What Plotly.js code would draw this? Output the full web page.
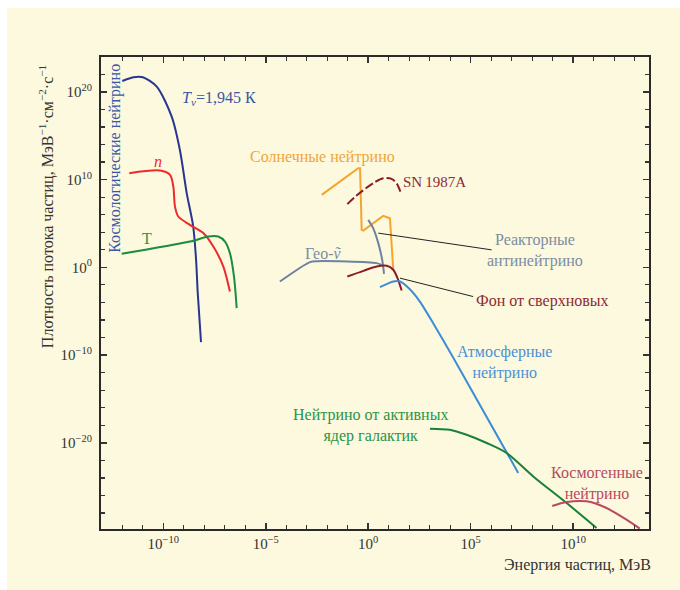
<!DOCTYPE html>
<html>
<head>
<meta charset="utf-8">
<script src="https://cdn.plot.ly/plotly-3.0.1.min.js"></script>
<style>
  html, body { margin: 0; padding: 0; background: #ffffff; width: 680px; height: 590px; overflow: hidden; }
  #plot { position: absolute; left: 7px; top: 8px; width: 673px; height: 582px; }
</style>
</head>
<body>
<div id="plot"></div>
<script>
// All values are log10 of energy (MeV) and log10 of flux density
const cosmoX = [-12.0, -11.46, -11.0, -10.32, -9.59, -9.19, -8.86, -8.54, -8.40, -8.32, -8.16];
const cosmoY = [21.24, 21.66, 21.66, 20.59, 17.18, 13.38, 8.49, 4.65, 0.85, -2.90, -8.52];

const nX = [-11.66, -10.16, -9.67, -9.51, -9.43, -9.27, -8.70, -8.05, -7.56, -7.07, -6.75];
const nY = [10.73, 11.03, 10.54, 9.20, 6.92, 5.79, 4.84, 3.90, 2.37, 0.09, -2.76];

const tX = [-12.03, -8.70, -7.80, -7.32, -6.99, -6.75, -6.55, -6.42];
const tY = [1.54, 2.94, 3.51, 3.51, 2.94, 1.62, -1.05, -4.65];

const solarX = [-2.27, -0.49, -0.40, -0.32, -0.24, 0.73, 1.06, 1.14, 1.22];
const solarY = [8.26, 11.30, 11.30, 4.27, 4.19, 5.87, 5.60, 3.13, -0.28];

const sn1987X = [-1.02, -0.57, 0.24, 0.73, 1.14, 1.40, 1.58];
const sn1987Y = [7.20, 8.18, 9.59, 10.16, 10.08, 9.51, 8.56];

const geoX = [-4.31, -2.84, -2.5, 0.41, 0.65];
const geoY = [-1.62, 0.60, 0.70, 0.48, 0.28];

const reactorX = [0.0, 0.24, 0.49, 0.65, 0.73, 0.77];
const reactorY = [5.41, 4.46, 2.76, 1.23, 0.09, -0.74];

const snbgX = [-1.02, -0.24, 0.41, 0.90, 1.22, 1.46, 1.63];
const snbgY = [-1.05, -0.40, 0.09, 0.17, -0.28, -1.42, -2.64];

const atmX = [0.57, 1.22, 1.55, 2.03, 2.52, 3.17, 4.15, 7.32];
const atmY = [-2.26, -1.62, -1.62, -2.50, -3.90, -6.36, -10.30, -23.44];

const agnX = [3.01, 3.98, 4.80, 5.78, 6.75, 8.05, 9.68, 11.14];
const agnY = [-18.39, -18.51, -19.08, -20.02, -21.16, -23.83, -26.86, -29.70];

const cosmogX = [8.98, 9.68, 10.65, 11.63, 12.6, 13.25];
const cosmogY = [-27.2, -26.74, -26.67, -27.43, -28.76, -29.78];

const leadReactorX = [0.49, 6.02];
const leadReactorY = [3.90, 1.99];
const leadSnbgX = [1.55, 5.12];
const leadSnbgY = [-1.23, -3.33];

// Axis ticks (exponents)
const xMajor = [-10, -5, 0, 5, 10];
const xMinor = [-13,-12,-11,-9,-8,-7,-6,-4,-3,-2,-1,1,2,3,4,6,7,8,9,11,12,13];
const yMajor = [-20, -10, 0, 10, 20];
const yMinor = [-28,-26,-24,-22,-18,-16,-14,-12,-8,-6,-4,-2,2,4,6,8,12,14,16,18,22];

const FONT = 'Liberation Serif';
const pw = v => Math.pow(10, v);
const lbl = e => '10<sup>' + (e < 0 ? '\u2212' + (-e) : e) + '</sup>';

function curve(xs, ys, color, opts) {
  opts = opts || {};
  return {
    x: xs.map(pw), y: ys.map(pw), type: 'scatter', mode: 'lines',
    line: Object.assign({color: color, width: opts.width || 2, shape: opts.shape || 'spline', smoothing: opts.smoothing || 0.8}, opts.dash ? {dash: opts.dash} : {}),
    hoverinfo: 'skip', showlegend: false
  };
}

const C = {
  cosmo: '#27378f', cosmoText: '#3a56a6',
  n: '#ec2a2c', t: '#1b8c40', tText: '#2a9448',
  solar: '#f5a52c', solarText: '#f0a53c',
  sn: '#8a1c28', snText: '#8d2a36',
  geo: '#6f82a0', geoText: '#7d8ca2',
  atm: '#3b8dd6', atmText: '#4a90d5',
  agn: '#17813a', agnText: '#2a9448',
  cosmog: '#b74a62'
};

const traces = [
  curve(cosmoX, cosmoY, C.cosmo),
  curve(nX, nY, C.n),
  curve(tX, tY, C.t),
  curve(solarX, solarY, C.solar, {shape: 'linear'}),
  curve(sn1987X, sn1987Y, C.sn, {dash: '9px,3px'}),
  curve(geoX, geoY, C.geo),
  curve(reactorX, reactorY, C.geo),
  curve(snbgX, snbgY, C.sn),
  curve(atmX, atmY, C.atm, {smoothing: 0.6}),
  curve(agnX, agnY, C.agn),
  curve(cosmogX, cosmogY, C.cosmog),
  curve(leadReactorX, leadReactorY, '#222', {width: 1, shape: 'linear'}),
  curve(leadSnbgX, leadSnbgY, '#222', {width: 1, shape: 'linear'})
];

function ann(x, y, text, color, extra) {
  return Object.assign({x: x, y: y, xref: 'x', yref: 'y', text: text, showarrow: false,
    font: {family: FONT, size: 16, color: color}, xanchor: 'center', yanchor: 'middle'}, extra || {});
}

const annotations = [
  ann(-12.36, 12.47, 'Космологические нейтрино', C.cosmoText, {textangle: -90}),
  ann(-7.28, 19.27, '<i>T</i><sub><i>v</i></sub>=1,945 К', C.cosmoText),
  ann(-10.24, 12.05, '<i>n</i>', C.n),
  ann(-10.81, 3.33, 'Т', C.tText),
  ann(-2.23, 12.62, 'Солнечные нейтрино', C.solarText),
  ann(3.23, 9.77, 'SN\u20091987A', C.snText, {font: {family: FONT, size: 15, color: C.snText}}),
  ann(-2.21, 1.62, 'Гео-<i>\u1E7D</i>', C.geoText),
  ann(8.13, 1.90, 'Реакторные<br>антинейтрино', C.geoText),
  ann(8.50, -3.89, 'Фон от сверхновых', C.snText),
  ann(6.64, -10.82, 'Атмосферные<br>нейтрино', C.atmText),
  ann(0.13, -18.03, 'Нейтрино от активных<br>ядер галактик', C.agnText),
  ann(11.14, -24.64, 'Космогенные<br>нейтрино', C.cosmog),
  {xref: 'paper', yref: 'paper', x: 1.008, y: -0.076, xanchor: 'right', yanchor: 'middle',
   text: 'Энергия частиц, МэВ', showarrow: false, font: {family: FONT, size: 16, color: '#333'}},
  {xref: 'paper', yref: 'paper', x: -0.1004, y: 0.684, xanchor: 'center', yanchor: 'middle', textangle: -90,
   text: 'Плотность потока частиц, МэВ<sup>\u22121</sup>·см<sup>\u22122</sup>·с<sup>\u22121</sup>', showarrow: false,
   font: {family: FONT, size: 16, color: '#333'}}
];

const axisCommon = {
  type: 'log', showline: true, linecolor: '#2a2a2a', linewidth: 2, mirror: 'ticks',
  ticks: 'inside', ticklen: 6, tickwidth: 1.5, tickcolor: '#333',
  showgrid: false, zeroline: false, tickmode: 'array',
  tickfont: {family: FONT, size: 15, color: '#333'}
};

const layout = {
  width: 673, height: 582,
  margin: {l: 94, r: 31, t: 49, b: 61},
  paper_bgcolor: '#fcf9de', plot_bgcolor: '#fcf9de',
  showlegend: false,
  font: {family: FONT},
  xaxis: Object.assign({}, axisCommon, {
    range: [-13.04, 13.70],
    tickvals: xMajor.map(pw), ticktext: xMajor.map(lbl),
    minor: {tickmode: 'array', tickvals: xMinor.map(pw), ticks: 'inside', ticklen: 4, tickwidth: 1.2, tickcolor: '#333'}
  }),
  yaxis: Object.assign({}, axisCommon, {
    range: [-29.82, 23.97],
    tickvals: yMajor.map(pw), ticktext: yMajor.map(lbl), ticklabelstandoff: 4,
    minor: {tickmode: 'array', tickvals: yMinor.map(pw), ticks: 'inside', ticklen: 4, tickwidth: 1.2, tickcolor: '#333'}
  }),
  annotations: annotations
};

Plotly.newPlot('plot', traces, layout, {displayModeBar: false, staticPlot: true});
</script>
</body>
</html>
